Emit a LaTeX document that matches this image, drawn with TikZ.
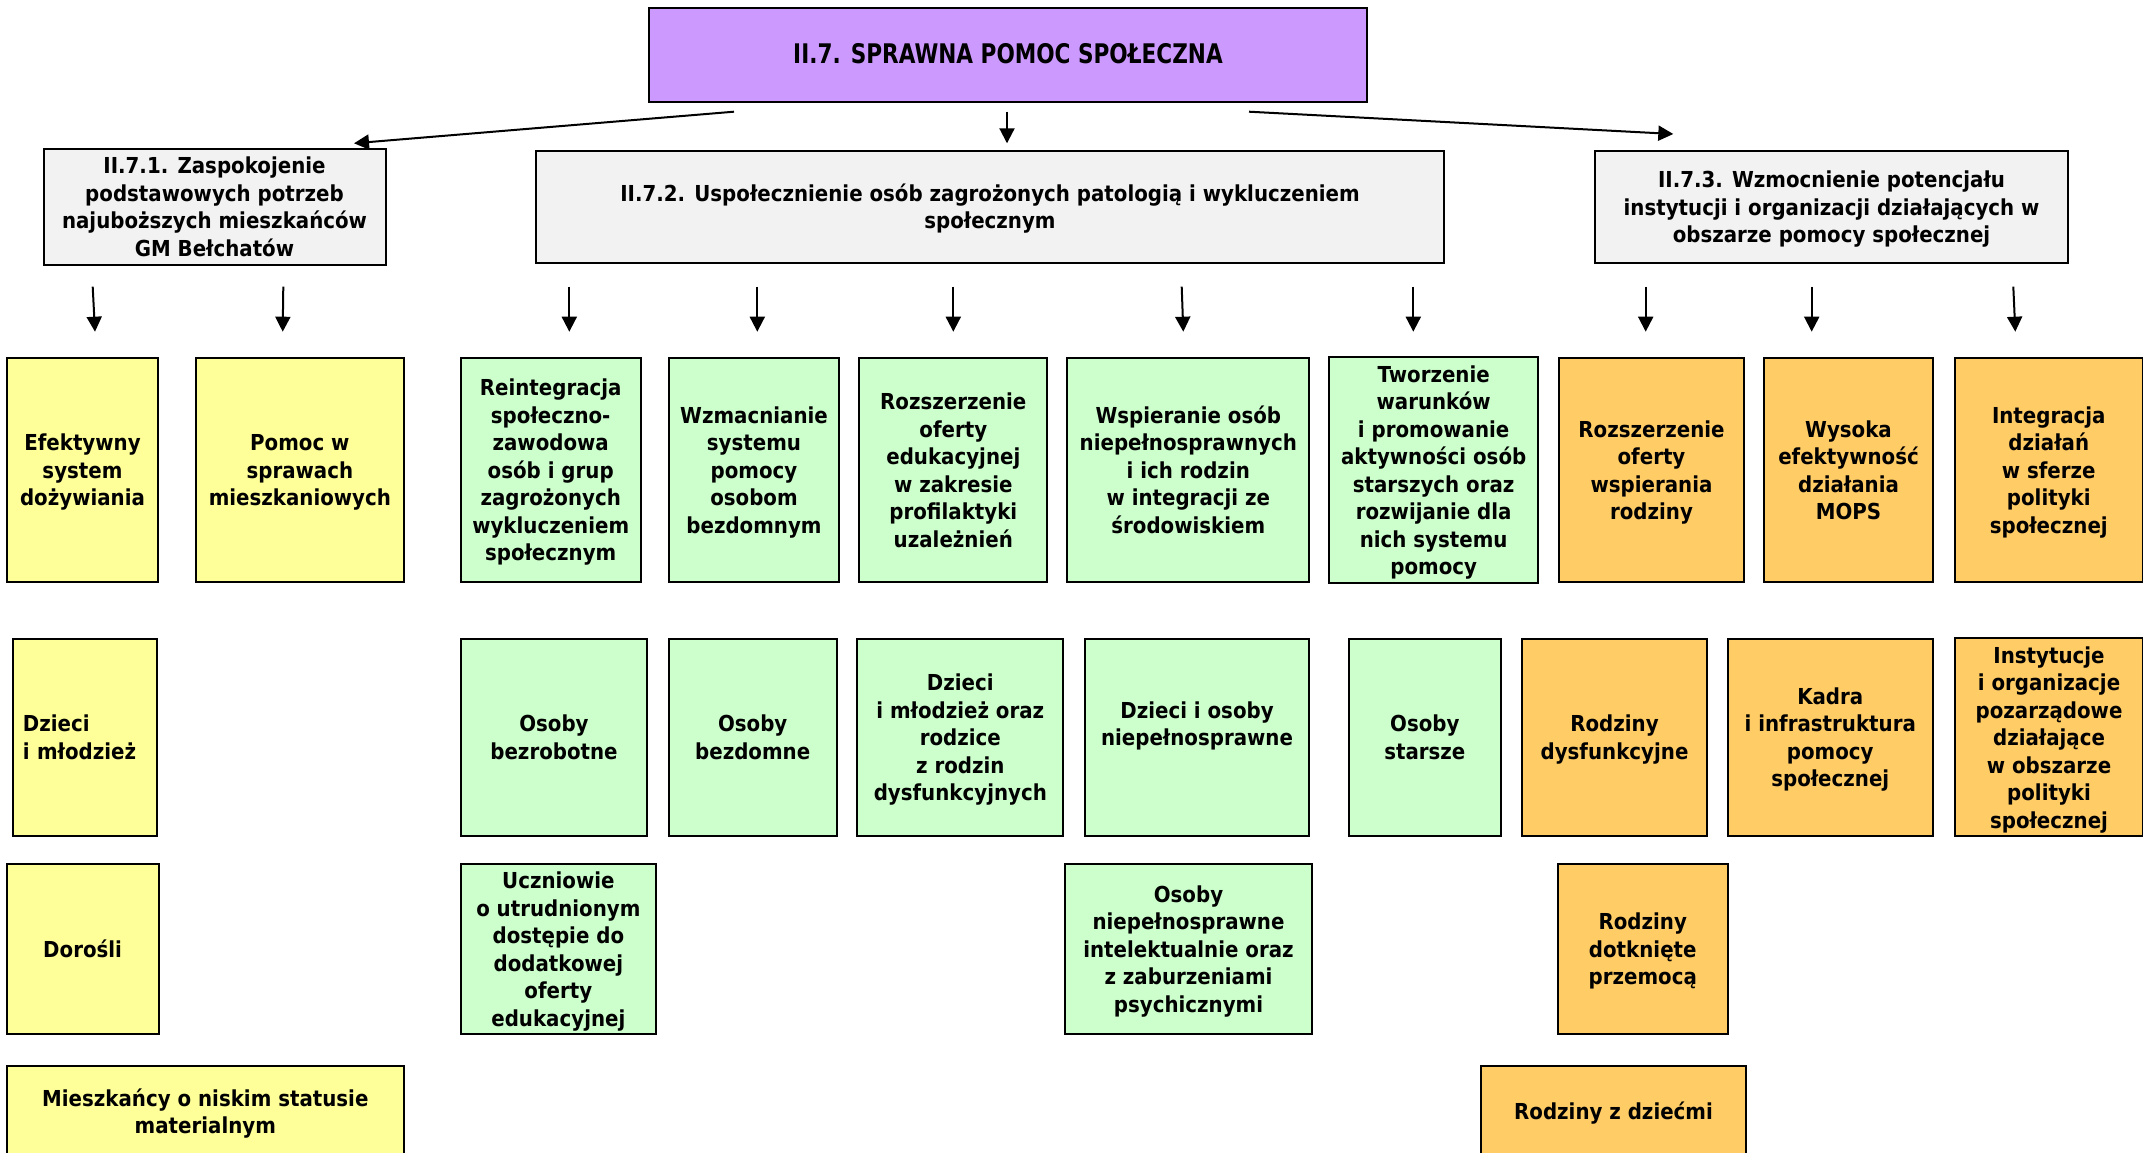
\documentclass[tikz,border=0pt]{standalone}
\usepackage{fontspec}
\setmainfont{DejaVu Sans}[FakeStretch=0.9]
\newfontfamily\titlefont{DejaVu Sans}[FakeStretch=0.8]
\usetikzlibrary{arrows.meta}
\definecolor{cpurple}{HTML}{CC99FF}
\definecolor{cgray}{HTML}{F2F2F2}
\definecolor{cyellow}{HTML}{FFFF99}
\definecolor{cgreen}{HTML}{CCFFCC}
\definecolor{corange}{HTML}{FFCC66}
\newcommand\mytopstrut{\rule[-8.25pt]{0pt}{33.25pt}}
\newcommand\mybox[7]{%
  \pgfmathsetmacro\mybxcx{(#3+#5)/2}%
  \pgfmathsetmacro\mybxcy{(#4+#6)/2}%
  \pgfmathsetmacro\mybxw{#5-#3}%
  \pgfmathsetmacro\mybxh{#6-#4}%
  \node[#2, minimum width=\mybxw pt, minimum height=\mybxh pt] (#1) at (\mybxcx,\mybxcy) {\mytopstrut#7\strut};}
\begin{document}
\begin{tikzpicture}[x=1pt,y=-1pt,
  base/.style={draw=black, line width=2pt, inner sep=0pt, outer sep=0pt, align=center,
    font=\bfseries\fontsize{22}{27.5}\selectfont},
  titlebox/.style={base, fill=cpurple, font=\titlefont\bfseries\fontsize{27}{30}\selectfont},
  gbox/.style={base, fill=cgray},
  ybox/.style={base, fill=cyellow},
  grbox/.style={base, fill=cgreen},
  obox/.style={base, fill=corange},
  arr/.style={line width=2pt, -{Triangle[length=15pt,width=15pt]}}]
\useasboundingbox (0,0) rectangle (2143,1153);
\clip (0,0) rectangle (2143,1153);
\fill[white] (0,0) rectangle (2143,1153);

% level 0 and 1
\mybox{top}{titlebox}{649}{8.5}{1367}{102.5}{II.7. SPRAWNA POMOC SPOŁECZNA}
\mybox{h1}{gbox}{43.5}{150.5}{385.5}{263}{II.7.1. Zaspokojenie\\podstawowych potrzeb\\najuboższych mieszkańców\\GM Bełchatów}
\mybox{h2}{gbox}{536}{150.5}{1444}{263}{II.7.2. Uspołecznienie osób zagrożonych patologią i wykluczeniem\\społecznym}
\mybox{h3}{gbox}{1595}{150.5}{2068}{263}{II.7.3. Wzmocnienie potencjału\\instytucji i organizacji działających w\\obszarze pomocy społecznej}

% row 1
\mybox{eff}{ybox}{6.7}{358}{158.3}{582}{Efektywny\\system\\dożywiania}
\mybox{pom}{ybox}{195.7}{358}{404}{582}{Pomoc w\\sprawach\\mieszkaniowych}
\mybox{rei}{grbox}{460.7}{358}{640.7}{582}{Reintegracja\\społeczno-\\zawodowa\\osób i grup\\zagrożonych\\wykluczeniem\\społecznym}
\mybox{wzm}{grbox}{668.7}{358}{839.3}{582}{Wzmacnianie\\systemu\\pomocy\\osobom\\bezdomnym}
\mybox{roz}{grbox}{859.3}{358}{1047.3}{582}{Rozszerzenie\\oferty\\edukacyjnej\\w zakresie\\profilaktyki\\uzależnień}
\mybox{wsp}{grbox}{1067.3}{358}{1309.3}{582}{Wspieranie osób\\niepełnosprawnych\\i ich rodzin\\w integracji ze\\środowiskiem}
\mybox{two}{grbox}{1329.3}{358}{1538}{582}{Tworzenie\\warunków\\i promowanie\\aktywności osób\\starszych oraz\\rozwijanie dla\\nich systemu\\pomocy}
\mybox{rzr}{obox}{1559}{358}{1744}{582}{Rozszerzenie\\oferty\\wspierania\\rodziny}
\mybox{wys}{obox}{1764}{358}{1933}{582}{Wysoka\\efektywność\\działania\\MOPS}
\mybox{int}{obox}{1954.5}{358}{2143}{582}{Integracja\\działań\\w sferze\\polityki\\społecznej}

% row 2
\mybox{dzm}{ybox, align=left, text width=123.5pt, inner xsep=10.5pt}{12.5}{638.5}{157}{836}{Dzieci\\i młodzież}
\mybox{obz}{grbox}{460.7}{638.5}{647.3}{836}{Osoby\\bezrobotne}
\mybox{obd}{grbox}{668.7}{638.5}{836.7}{836}{Osoby\\bezdomne}
\mybox{dmr}{grbox}{857.3}{638.5}{1063.3}{836}{Dzieci\\i młodzież oraz\\rodzice\\z rodzin\\dysfunkcyjnych}
\mybox{dio}{grbox}{1084.7}{638.5}{1309.3}{836}{Dzieci i osoby\\niepełnosprawne\\~}
\mybox{ost}{grbox}{1348.7}{638.5}{1501}{836}{Osoby\\starsze}
\mybox{rdy}{obox}{1522}{638.5}{1707}{836}{Rodziny\\dysfunkcyjne}
\mybox{kad}{obox}{1727.5}{638.5}{1933}{836}{Kadra\\i infrastruktura\\pomocy\\społecznej}
\mybox{ins}{obox}{1955}{638.5}{2143}{836}{Instytucje\\i organizacje\\pozarządowe\\działające\\w obszarze\\polityki\\społecznej}

% row 3
\mybox{dor}{ybox}{6.7}{864}{158.5}{1034}{Dorośli}
\mybox{ucz}{grbox}{460.7}{864}{656}{1034}{Uczniowie\\o utrudnionym\\dostępie do\\dodatkowej\\oferty\\edukacyjnej}
\mybox{oni}{grbox}{1065}{864}{1312}{1034}{Osoby\\niepełnosprawne\\intelektualnie oraz\\z zaburzeniami\\psychicznymi}
\mybox{rdp}{obox}{1557.5}{864}{1728}{1034}{Rodziny\\dotknięte\\przemocą}

% row 4
\mybox{mie}{ybox}{6.7}{1066}{404}{1157}{Mieszkańcy o niskim statusie\\materialnym}
\mybox{rzd}{obox}{1481}{1066}{1746}{1157}{Rodziny z dziećmi}

% top arrows
\coordinate (t1s) at (734,111.7);  \coordinate (t1e) at (354,143.3);
\coordinate (t2s) at (1007,111.7); \coordinate (t2e) at (1007,143.3);
\coordinate (t3s) at (1249,111.7); \coordinate (t3e) at (1673.3,134);
\draw[arr] (t1s) -- (t1e);
\draw[arr] (t2s) -- (t2e);
\draw[arr] (t3s) -- (t3e);

% second level arrows
\foreach \n/\xa/\xb in {1/92.7/95, 2/283.3/282.7, 3/569.3/569.3, 4/757.3/757.3,
  5/953.3/953.3, 6/1181.7/1183.3, 7/1413.3/1413.3, 8/1645.7/1645.7,
  9/1811.7/1811.7, 10/2013.3/2015.3}{
  \coordinate (s\n) at (\xa,286.7);
  \coordinate (e\n) at (\xb,331.7);
  \draw[arr] (s\n) -- (e\n);
}
\end{tikzpicture}
\end{document}
